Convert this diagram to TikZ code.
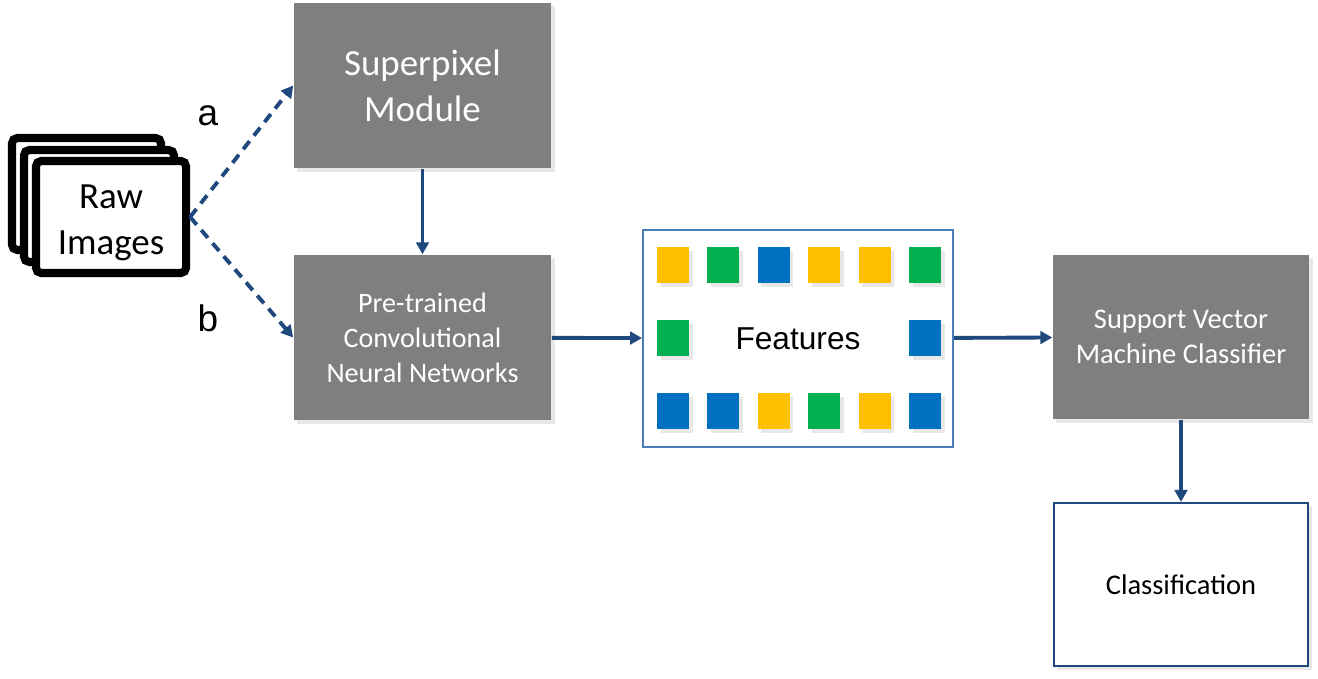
\documentclass[tikz,border=0pt]{standalone}
\usepackage{fontspec}
\setmainfont{Carlito}
\newfontfamily\arialfont{Liberation Sans}
\usetikzlibrary{arrows.meta,shadows}
\definecolor{arrowblue}{HTML}{1F497D}
\definecolor{boxgrey}{HTML}{7F7F7F}
\definecolor{featline}{HTML}{4A7EBB}
\definecolor{fyellow}{HTML}{FFC000}
\definecolor{fgreen}{HTML}{00B050}
\definecolor{fblue}{HTML}{0070C0}
\tikzset{
  softshadow/.style={drop shadow={shadow xshift=1pt,shadow yshift=-1pt,opacity=0.18}},
  greybox/.style={fill=boxgrey,text=white,align=center,minimum width=2.57cm,minimum height=1.65cm,inner sep=0pt,softshadow},
  outbox/.style={draw=arrowblue,line width=0.6pt,fill=white,align=center,minimum width=2.54cm,minimum height=1.63cm,inner sep=0pt,softshadow},
  framebox/.style={draw=black,line width=2.3pt,rounded corners=1.5pt,fill=white},
  featsq/.style={minimum width=0.32cm,minimum height=0.36cm,inner sep=0pt,softshadow},
  flow/.style={draw=arrowblue,line width=1.1pt,-{Triangle[length=3.4pt,width=3.6pt]}},
  dashflow/.style={flow,dash pattern=on 2.9pt off 2pt},
  branch/.style={font=\arialfont\fontsize{10.5}{13}\selectfont}
}
\begin{document}
\begin{tikzpicture}[x=0.01cm,y=-0.01cm]
\useasboundingbox (0,0) rectangle (1318,679);
% raw image stack
\draw[framebox] (12,138) rectangle (161,250);
\draw[framebox] (24,150) rectangle (174,262);
\node[framebox,minimum width=1.5cm,minimum height=1.12cm,
      label={[align=center,yshift=-1.7pt,font=\fontsize{10.5}{13}\selectfont]center:Raw\\Images}] (raw) at (111,217) {};
% processing blocks
\node[greybox,font=\fontsize{10.5}{13}\selectfont] (super) at (422.5,85.5) {Superpixel\\Module};
\node[greybox,font=\fontsize{8}{10}\selectfont] (cnn) at (422.5,337.5) {Pre-trained\\Convolutional\\Neural Networks};
\node[draw=featline,line width=0.5pt,fill=white,minimum width=3.1cm,minimum height=2.17cm,
      font=\arialfont\fontsize{9}{11}\selectfont] (feat) at (798,338.5) {Features};
\node[greybox,minimum width=2.56cm,minimum height=1.64cm,font=\fontsize{8.1}{10}\selectfont] (svm) at (1181,337) {Support Vector\\Machine Classifier};
\node[outbox,font=\fontsize{8.1}{10}\selectfont] (cls) at (1181,584.5) {Classification};
% feature squares
\foreach \c [count=\i] in {fyellow,fgreen,fblue,fyellow,fyellow,fgreen}
  \node[featsq,fill=\c] (top\i) at ({673+50.4*(\i-1)},265) {};
\foreach \c [count=\i] in {fblue,fblue,fyellow,fgreen,fyellow,fblue}
  \node[featsq,fill=\c] (bot\i) at ({673+50.4*(\i-1)},411) {};
\node[featsq,fill=fgreen] (midl) at (673,338) {};
\node[featsq,fill=fblue] (midr) at (925,338) {};
% connectors
\draw[dashflow] (raw.east) -- (super.west);
\draw[dashflow] (raw.east) -- (cnn.west);
\node[branch] (la) at (208,116) {a};
\node[branch] (lb) at (208,318) {b};
\draw[flow] (super) -- (cnn);
\draw[flow] (cnn) -- (feat);
\draw[flow] (feat) -- (svm);
\draw[flow] (svm) -- (cls);
\end{tikzpicture}
\end{document}
